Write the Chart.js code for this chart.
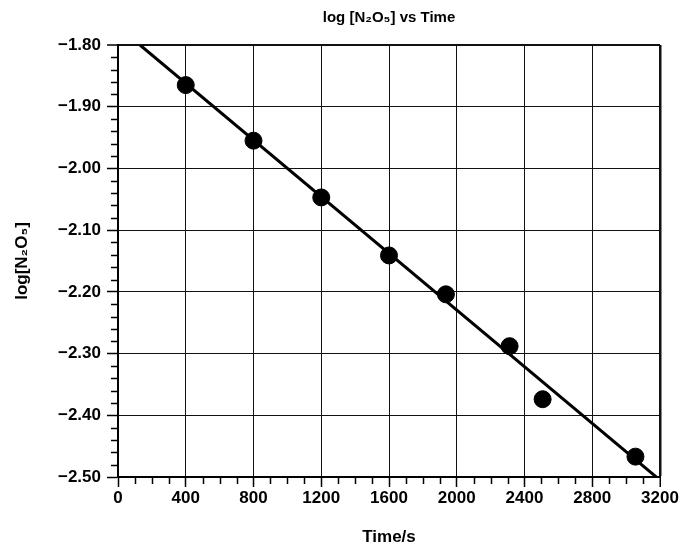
<!DOCTYPE html>
<html>
<head>
<meta charset="utf-8">
<title>log [N2O5] vs Time</title>
<script src="https://cdn.jsdelivr.net/npm/chart.js@4.4.1/dist/chart.umd.min.js"></script>
<style>
    html, body { margin: 0; padding: 0; background: #fff; }
    #wrap { width: 688px; height: 552px; position: relative; }
</style>
</head>
<body>
<div id="wrap"><canvas id="rateChart"></canvas></div>
<script>
// Data
const times = [400, 800, 1200, 1600, 1936, 2312, 2507, 3055];
const logConc = [-1.865, -1.955, -2.047, -2.141, -2.204, -2.288, -2.374, -2.467];

// Best-fit line end points
const fitTimes = [130, 3200];
const fitLog = [-1.80, -2.505];

// Axis ranges and tick steps
const xRange = [0, 3200];
const xMajorStep = 400;
const xMinorStep = 100;
const yRange = [-2.50, -1.80];
const yMajorStep = 0.1;
const yMinorStep = 0.02;

const FONT = "'Liberation Sans', Arial, Helvetica, sans-serif";

// Small ticks between the labelled ones
const minorTicks = {
    id: 'minorTicks',
    afterDraw(chart) {
        const { ctx, chartArea, scales } = chart;
        const x = scales.x, y = scales.y;
        ctx.save();
        ctx.strokeStyle = '#000';
        ctx.lineWidth = 1.5;
        ctx.beginPath();
        for (let t = xRange[0] + xMinorStep; t < xRange[1]; t += xMinorStep) {
            if (t % xMajorStep === 0) continue;
            const px = Math.round(x.getPixelForValue(t)) + 0.5;
            ctx.moveTo(px, chartArea.bottom);
            ctx.lineTo(px, chartArea.bottom + 7);
        }
        const n = Math.round((yRange[1] - yRange[0]) / yMinorStep);
        const per = Math.round(yMajorStep / yMinorStep);
        for (let i = 1; i < n; i++) {
            if (i % per === 0) continue;
            const py = Math.round(y.getPixelForValue(yRange[0] + i * yMinorStep)) + 0.5;
            ctx.moveTo(chartArea.left - 7, py);
            ctx.lineTo(chartArea.left, py);
        }
        ctx.stroke();
        ctx.restore();
    }
};

const points = times.map((t, i) => ({ x: t, y: logConc[i] }));
const fitLine = fitTimes.map((t, i) => ({ x: t, y: fitLog[i] }));

new Chart(document.getElementById('rateChart'), {
    type: 'scatter',
    data: {
        datasets: [
            {
                label: 'Best fit',
                data: fitLine,
                showLine: true,
                borderColor: '#000',
                borderWidth: 3,
                pointRadius: 0,
                order: 2
            },
            {
                label: 'log[N2O5]',
                data: points,
                backgroundColor: '#000',
                borderColor: '#000',
                pointRadius: 8.5,
                pointHoverRadius: 8.5,
                order: 1
            }
        ]
    },
    options: {
        responsive: true,
        maintainAspectRatio: false,
        animation: false,
        layout: {
            padding: { top: 0, right: 28, bottom: 0, left: 0 }
        },
        plugins: {
            legend: { display: false },
            tooltip: { enabled: false },
            title: {
                display: true,
                text: 'log [N\u2082O\u2085] vs Time',
                fullSize: false,
                color: '#000',
                font: { family: FONT, size: 15, weight: 'bold' },
                padding: { top: 9, bottom: 18 }
            }
        },
        scales: {
            x: {
                type: 'linear',
                min: xRange[0],
                max: xRange[1],
                afterFit: function(scale) { scale.height = 75; },
                ticks: {
                    stepSize: xMajorStep,
                    color: '#000',
                    padding: 1,
                    maxRotation: 0,
                    font: { family: FONT, size: 17, weight: 'bold' },
                    callback: function(value) { return String(value); }
                },
                grid: {
                    color: '#111',
                    lineWidth: function(c) { return c.tick && c.tick.value === xRange[1] ? 2.5 : 1; },
                    tickColor: '#000',
                    tickWidth: 1.5,
                    tickLength: 10
                },
                border: { display: true, color: '#000', width: 2 },
                title: {
                    display: true,
                    text: 'Time/s',
                    color: '#000',
                    font: { family: FONT, size: 17, weight: 'bold' },
                    padding: { top: 0, bottom: 4 }
                }
            },
            y: {
                type: 'linear',
                min: yRange[0],
                max: yRange[1],
                afterFit: function(scale) { scale.width = 118; },
                ticks: {
                    stepSize: yMajorStep,
                    color: '#000',
                    padding: 6,
                    font: { family: FONT, size: 17, weight: 'bold' },
                    callback: function(value) {
                        return '\u2212' + Math.abs(value).toFixed(2);
                    }
                },
                grid: {
                    color: '#111',
                    lineWidth: function(c) { return c.tick && Math.abs(c.tick.value - yRange[1]) < 1e-6 ? 2 : 1; },
                    tickColor: '#000',
                    tickWidth: 1.5,
                    tickLength: 11
                },
                border: { display: true, color: '#000', width: 2 },
                title: {
                    display: true,
                    text: 'log[N\u2082O\u2085]',
                    color: '#000',
                    font: { family: FONT, size: 17, weight: 'bold' },
                    padding: { top: 12, bottom: 0 }
                }
            }
        }
    },
    plugins: [minorTicks]
});
</script>
</body>
</html>
